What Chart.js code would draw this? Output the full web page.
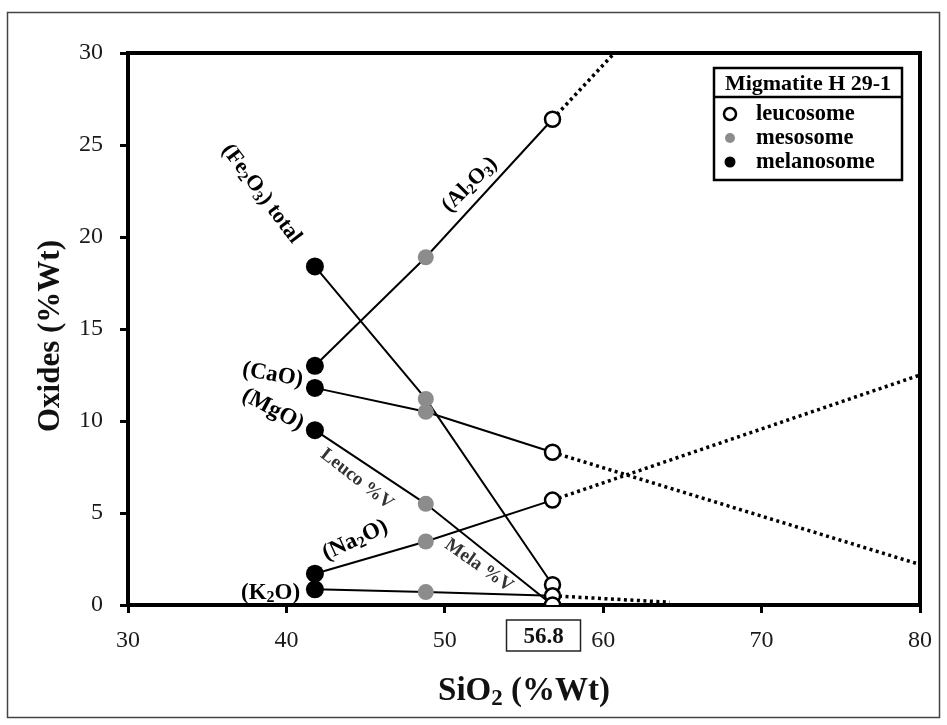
<!DOCTYPE html>
<html>
<head>
<meta charset="utf-8">
<script src="https://cdn.jsdelivr.net/npm/chart.js@4.4.0/dist/chart.umd.min.js"></script>
<style>
    html, body { margin: 0; padding: 0; background: #fff; }
</style>
</head>
<body>
<canvas id="chart" width="947" height="725"></canvas>
<script>
const SERIF = "'Liberation Serif', 'Times New Roman', serif";

// SiO2 (%Wt) of each sample
const sio2Mela = 41.8;
const sio2Meso = 48.8;
const sio2Leuco = 56.8;

// oxide contents (%Wt), one value per oxide
const oxides = ["Al2O3", "Fe2O3", "CaO", "Na2O", "K2O", "MgO"];
const melanosome = [13.0, 18.4, 11.8, 1.7, 0.85, 9.5];
const mesosome = [18.9, 11.2, 10.5, 3.45, 0.7, 5.5];
const leucosome = [26.4, 1.1, 8.3, 5.7, 0.5, 0.0];

// dotted trends beyond the leucosome
const trendOxides = ["Al2O3", "CaO", "Na2O", "K2O"];
const trendEndX = [60.7, 80, 80, 64.2];
const trendEndY = [30, 2.2, 12.5, 0.15];

// axis ticks
const xTickValues = [30, 40, 50, 60, 70, 80];
const yTickValues = [0, 5, 10, 15, 20, 25, 30];

// text notes on the plot ("_" marks a subscript character)
const notes = [
    { text: "(Fe_2O_3) total", x: 38.5, y: 22.4, angle: 53, size: 22 },
    { text: "(Al_2O_3)", x: 51.5, y: 22.9, angle: -45, size: 22 },
    { text: "(CaO)", x: 39.15, y: 12.6, angle: 10, size: 23 },
    { text: "(MgO)", x: 39.2, y: 10.7, angle: 28, size: 23 },
    { text: "Leuco %V", x: 44.5, y: 6.9, angle: 38, size: 19, color: "#333" },
    { text: "(Na_2O)", x: 44.3, y: 3.6, angle: -25, size: 23 },
    { text: "Mela %V", x: 52.2, y: 2.2, angle: 35, size: 19, color: "#333" },
    { text: "(K_2O)", x: 39.0, y: 0.76, angle: 0, size: 23 }
];

const GRAY = "#8c8c8c";

// draw text with subscripts, centred on (x, y)
function drawRich(ctx, text, x, y, angle, size, weight, color) {
    const segs = [];
    for (let i = 0; i < text.length; i++) {
        if (text[i] === "_") {
            segs.push({ t: text[i + 1], sub: true });
            i++;
        } else {
            const last = segs[segs.length - 1];
            if (last && !last.sub) last.t += text[i];
            else segs.push({ t: text[i], sub: false });
        }
    }
    const subSize = Math.round(size * 0.7);
    ctx.save();
    ctx.translate(x, y);
    ctx.rotate(angle * Math.PI / 180);
    ctx.fillStyle = color;
    ctx.textAlign = "left";
    ctx.textBaseline = "alphabetic";
    let w = 0;
    segs.forEach(s => {
        ctx.font = `${weight} ${s.sub ? subSize : size}px ${SERIF}`;
        s.w = ctx.measureText(s.t).width;
        w += s.w;
    });
    let cx = -w / 2;
    const base = size * 0.33;
    segs.forEach(s => {
        ctx.font = `${weight} ${s.sub ? subSize : size}px ${SERIF}`;
        ctx.fillText(s.t, cx, base + (s.sub ? size * 0.15 : 0));
        cx += s.w;
    });
    ctx.restore();
}

// one solid line per oxide through the three samples
const lineSets = oxides.map((ox, i) => ({
    label: ox,
    data: [
        { x: sio2Mela, y: melanosome[i] },
        { x: sio2Meso, y: mesosome[i] },
        { x: sio2Leuco, y: leucosome[i] }
    ],
    showLine: true,
    borderColor: "#000",
    borderWidth: 2,
    pointRadius: 0,
    order: 3
}));

// dotted trend lines
const trendSets = trendOxides.map((ox, i) => ({
    label: ox + " trend",
    data: [
        { x: sio2Leuco, y: leucosome[oxides.indexOf(ox)] },
        { x: trendEndX[i], y: trendEndY[i] }
    ],
    showLine: true,
    borderColor: "#000",
    borderWidth: 3.5,
    borderDash: [3, 3.5],
    pointRadius: 0,
    order: 4
}));

const pointSets = [
    {
        label: "melanosome",
        data: melanosome.map(v => ({ x: sio2Mela, y: v })),
        backgroundColor: "#000", borderColor: "#000",
        pointRadius: 9, borderWidth: 0, order: 0
    },
    {
        label: "mesosome",
        data: mesosome.map(v => ({ x: sio2Meso, y: v })),
        backgroundColor: GRAY, borderColor: GRAY,
        pointRadius: 8, borderWidth: 0, order: 1
    },
    {
        label: "leucosome",
        data: leucosome.map(v => ({ x: sio2Leuco, y: v })),
        backgroundColor: "#fff", borderColor: "#000",
        pointRadius: 7.5, borderWidth: 2.5, order: 0
    }
];

// frame, legend, titles and notes
const decor = {
    id: "decor",
    beforeDraw(chart) {
        const ctx = chart.ctx;
        ctx.save();
        ctx.fillStyle = "#fff";
        ctx.fillRect(0, 0, chart.width, chart.height);
        ctx.strokeStyle = "#444";
        ctx.lineWidth = 1.5;
        ctx.strokeRect(7.5, 12.5, 932, 705);
        ctx.restore();
    },
    beforeDatasetsDraw(chart) {
        const { ctx, chartArea: a } = chart;
        ctx.save();
        ctx.strokeStyle = "#000";
        ctx.lineWidth = 4;
        ctx.strokeRect(a.left, a.top, a.right - a.left, a.bottom - a.top);
        ctx.restore();
    },
    afterDraw(chart) {
        const { ctx, chartArea: a, scales } = chart;
        const xs = scales.x, ys = scales.y;

        notes.forEach(n => {
            drawRich(ctx, n.text, xs.getPixelForValue(n.x), ys.getPixelForValue(n.y),
                n.angle, n.size, "bold", n.color || "#000");
        });

        // axis titles
        drawRich(ctx, "SiO_2 (%Wt)", (a.left + a.right) / 2, 689, 0, 33, "bold", "#111");
        drawRich(ctx, "Oxides (%Wt)", 49, (a.top + a.bottom) / 2 + 7, -90, 31, "bold", "#111");

        // boxed leucosome SiO2 value below the axis
        const bx = xs.getPixelForValue(sio2Leuco) - 9;
        ctx.save();
        ctx.strokeStyle = "#222";
        ctx.lineWidth = 1.5;
        ctx.strokeRect(bx - 37, 620, 74, 31);
        ctx.restore();
        drawRich(ctx, String(sio2Leuco), bx, 635.5, 0, 23, "bold", "#111");

        // legend box
        const L = a.right - 206, T = a.top + 15, W = 188, H = 112;
        ctx.save();
        ctx.strokeStyle = "#000";
        ctx.lineWidth = 2.5;
        ctx.fillStyle = "#fff";
        ctx.fillRect(L, T, W, H);
        ctx.strokeRect(L, T, W, H);
        ctx.beginPath();
        ctx.moveTo(L, T + 29);
        ctx.lineTo(L + W, T + 29);
        ctx.stroke();
        ctx.restore();
        drawRich(ctx, "Migmatite H 29-1", L + W / 2, T + 15, 0, 22, "bold", "#000");

        const rows = [
            { name: "leucosome", fill: "#fff", stroke: "#000", r: 6 },
            { name: "mesosome", fill: GRAY, stroke: null, r: 5 },
            { name: "melanosome", fill: "#000", stroke: null, r: 5.5 }
        ];
        rows.forEach((row, i) => {
            const cy = T + 46 + i * 24;
            ctx.save();
            ctx.beginPath();
            ctx.arc(L + 16, cy, row.r, 0, Math.PI * 2);
            ctx.fillStyle = row.fill;
            ctx.fill();
            if (row.stroke) {
                ctx.strokeStyle = row.stroke;
                ctx.lineWidth = 2.5;
                ctx.stroke();
            }
            ctx.font = `bold 22.5px ${SERIF}`;
            ctx.fillStyle = "#000";
            ctx.textAlign = "left";
            ctx.textBaseline = "middle";
            ctx.fillText(row.name, L + 42, cy);
            ctx.restore();
        });
    }
};

const tickFont = { family: SERIF, size: 24 };

new Chart(document.getElementById("chart"), {
    type: "scatter",
    data: { datasets: [...pointSets, ...lineSets, ...trendSets] },
    options: {
        responsive: false,
        animation: false,
        layout: { padding: { top: 53, right: 27, left: 0, bottom: 0 } },
        plugins: { legend: { display: false }, tooltip: { enabled: false } },
        scales: {
            x: {
                type: "linear",
                min: 30, max: 80,
                afterBuildTicks: s => { s.ticks = xTickValues.map(v => ({ value: v })); },
                afterFit: s => { s.height = 120; },
                ticks: { font: tickFont, color: "#1a1a1a", padding: 13, maxRotation: 0 },
                grid: { drawOnChartArea: false, drawTicks: true, tickLength: 8, lineWidth: 3, color: "#000" },
                border: { display: true, width: 4, color: "#000" }
            },
            y: {
                type: "linear",
                min: 0, max: 30,
                afterBuildTicks: s => { s.ticks = yTickValues.map(v => ({ value: v })); },
                afterFit: s => { s.width = 128; },
                ticks: { font: tickFont, color: "#1a1a1a", padding: 17 },
                grid: { drawOnChartArea: false, drawTicks: true, tickLength: 8, lineWidth: 3, color: "#000" },
                border: { display: true, width: 4, color: "#000" }
            }
        }
    },
    plugins: [decor]
});
</script>
</body>
</html>
